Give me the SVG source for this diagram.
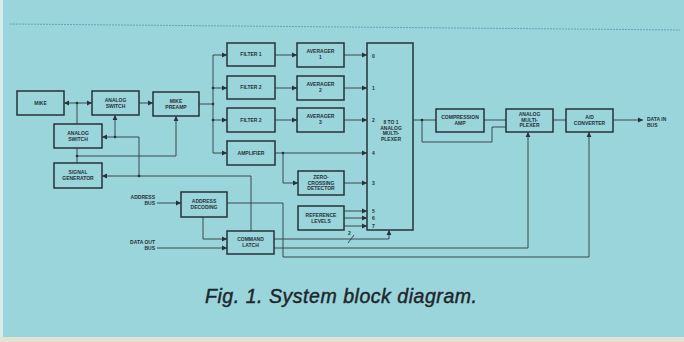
<svg xmlns="http://www.w3.org/2000/svg" width="684" height="342" viewBox="0 0 684 342">
<defs>
<marker id="ar" markerWidth="6" markerHeight="6" refX="5" refY="3" orient="auto" markerUnits="userSpaceOnUse">
<path d="M0,0.6 L5,3 L0,5.4 Z" fill="#27323a"/>
</marker>
<style>
.bx{fill:none;stroke:#27323a;stroke-width:1.5}
.c{fill:none;stroke:#2f3a42;stroke-width:0.9}
.a{fill:none;stroke:#2f3a42;stroke-width:0.9;marker-end:url(#ar)}
.t{font-family:"Liberation Sans",Arial,sans-serif;font-size:5px;font-weight:bold;fill:#27323a;text-anchor:middle}
.n{font-family:"Liberation Sans",Arial,sans-serif;font-size:5px;font-weight:bold;fill:#27323a}
.r{font-family:"Liberation Sans",Arial,sans-serif;font-size:5px;font-weight:bold;fill:#27323a;text-anchor:end}
.d{fill:#27323a}
</style>
</defs>
<rect x="0" y="0" width="684" height="342" fill="#99d5db"/>
<rect x="0" y="0" width="3" height="342" fill="#d6ecea"/>
<rect x="0" y="337" width="684" height="5" fill="#e3e3d3"/>
<line x1="10" y1="24" x2="680" y2="30" stroke="#5fa7b8" stroke-width="1" stroke-dasharray="2 1"/>

<g id="connectors">
<path class="a" d="M77,103 L64,103"/>
<path class="a" d="M77,103 L92,103"/>
<path class="c" d="M77,124 L77,103"/>
<path class="a" d="M139,103 L153,103"/>
<path class="c" d="M199,104 L213,104"/>
<path class="c" d="M213,55 L213,153"/>
<path class="a" d="M213,55 L227,55"/>
<path class="a" d="M213,88 L227,88"/>
<path class="a" d="M213,120 L227,120"/>
<path class="a" d="M213,153 L227,153"/>
<path class="a" d="M275,55 L297,55"/>
<path class="a" d="M275,88 L297,88"/>
<path class="a" d="M275,120 L297,120"/>
<path class="a" d="M344,55 L367,55"/>
<path class="a" d="M344,88 L367,88"/>
<path class="a" d="M344,120 L367,120"/>
<path class="a" d="M275,153 L367,153"/>
<path class="a" d="M283,153 L283,183 L298,183"/>
<path class="a" d="M344,183 L367,183"/>
<path class="a" d="M344,211 L367,211"/>
<path class="a" d="M344,218 L367,218"/>
<path class="a" d="M344,226 L367,226"/>
<path class="a" d="M274,239 L389,239 L389,230"/>
<path class="c" d="M348,243 L354,235"/>
<path class="a" d="M274,248 L528,248 L528,132"/>
<path class="a" d="M227,203 L283,203 L283,257 L589,257 L589,132"/>
<path class="a" d="M251,231 L251,176 L102,176"/>
<path class="a" d="M139,176 L139,137 L102,137"/>
<path class="a" d="M115,137 L115,115"/>
<path class="c" d="M77,163 L77,148"/>
<path class="a" d="M77,156 L176,156 L176,116"/>
<path class="a" d="M157,203 L181,203"/>
<path class="a" d="M157,248 L227,248"/>
<path class="a" d="M203,217 L203,239 L227,239"/>
<path class="c" d="M413,120 L436,120"/>
<path class="c" d="M422,120 L422,142 L492,142 L492,127 L506,127"/>
<path class="c" d="M484,120 L506,120"/>
<path class="c" d="M553,120 L566,120"/>
<path class="a" d="M613,120 L643,120"/>
<circle class="d" cx="77" cy="103" r="1.3"/>
<circle class="d" cx="213" cy="88" r="1.3"/>
<circle class="d" cx="213" cy="104" r="1.3"/>
<circle class="d" cx="213" cy="120" r="1.3"/>
<circle class="d" cx="283" cy="153" r="1.3"/>
<circle class="d" cx="139" cy="176" r="1.3"/>
<circle class="d" cx="115" cy="137" r="1.3"/>
<circle class="d" cx="77" cy="156" r="1.3"/>
<circle class="d" cx="422" cy="120" r="1.3"/>
<text class="n" x="348" y="235">2</text>
<text class="r" x="155" y="199">ADDRESS</text>
<text class="r" x="155" y="205">BUS</text>
<text class="r" x="155" y="244">DATA OUT</text>
<text class="r" x="155" y="250">BUS</text>
<text class="n" x="647" y="121">DATA IN</text>
<text class="n" x="647" y="127">BUS</text>
</g>

<g id="mike"><rect class="bx" x="17" y="91" width="47" height="24"/><text class="t" x="40.5" y="105">MIKE</text></g>
<g id="analog-switch-1"><rect class="bx" x="92" y="91" width="47" height="24"/><text class="t" x="115.5" y="102">ANALOG</text><text class="t" x="115.5" y="108">SWITCH</text></g>
<g id="mike-preamp"><rect class="bx" x="153" y="92" width="46" height="24"/><text class="t" x="176" y="103">MIKE</text><text class="t" x="176" y="109">PREAMP</text></g>
<g id="analog-switch-2"><rect class="bx" x="54" y="124" width="48" height="24"/><text class="t" x="78" y="135">ANALOG</text><text class="t" x="78" y="141">SWITCH</text></g>
<g id="signal-generator"><rect class="bx" x="54" y="163" width="48" height="25"/><text class="t" x="78" y="174">SIGNAL</text><text class="t" x="78" y="180">GENERATOR</text></g>
<g id="filter-1"><rect class="bx" x="227" y="43" width="48" height="23"/><text class="t" x="251" y="56">FILTER 1</text></g>
<g id="filter-2"><rect class="bx" x="227" y="76" width="48" height="23"/><text class="t" x="251" y="89">FILTER 2</text></g>
<g id="filter-3"><rect class="bx" x="227" y="108" width="48" height="24"/><text class="t" x="251" y="122">FILTER 2</text></g>
<g id="amplifier"><rect class="bx" x="227" y="141" width="48" height="24"/><text class="t" x="251" y="155">AMPLIFIER</text></g>
<g id="averager-1"><rect class="bx" x="297" y="43" width="47" height="24"/><text class="t" x="320.5" y="53">AVERAGER</text><text class="t" x="320.5" y="59">1</text></g>
<g id="averager-2"><rect class="bx" x="297" y="76" width="47" height="24"/><text class="t" x="320.5" y="86">AVERAGER</text><text class="t" x="320.5" y="92">2</text></g>
<g id="averager-3"><rect class="bx" x="297" y="108" width="47" height="24"/><text class="t" x="320.5" y="118">AVERAGER</text><text class="t" x="320.5" y="124">3</text></g>
<g id="mux-8to1"><rect class="bx" x="367" y="43" width="46" height="187"/>
<text class="n" x="372" y="57.5">0</text><text class="n" x="372" y="89.5">1</text><text class="n" x="372" y="122">2</text><text class="n" x="372" y="155">4</text><text class="n" x="372" y="185">3</text><text class="n" x="372" y="212.5">5</text><text class="n" x="372" y="219.5">6</text><text class="n" x="372" y="227.5">7</text>
<text class="t" x="391" y="124">8 TO 1</text><text class="t" x="391" y="129.5">ANALOG</text><text class="t" x="391" y="135">MULTI-</text><text class="t" x="391" y="140.5">PLEXER</text></g>
<g id="zero-crossing"><rect class="bx" x="298" y="171" width="46" height="24"/><text class="t" x="321" y="179">ZERO-</text><text class="t" x="321" y="184.5">CROSSING</text><text class="t" x="321" y="190">DETECTOR</text></g>
<g id="reference-levels"><rect class="bx" x="298" y="206" width="46" height="24"/><text class="t" x="321" y="217">REFERENCE</text><text class="t" x="321" y="223">LEVELS</text></g>
<g id="address-decoding"><rect class="bx" x="181" y="192" width="46" height="25"/><text class="t" x="204" y="203">ADDRESS</text><text class="t" x="204" y="209">DECODING</text></g>
<g id="command-latch"><rect class="bx" x="227" y="231" width="47" height="23"/><text class="t" x="250.5" y="241">COMMAND</text><text class="t" x="250.5" y="247">LATCH</text></g>
<g id="compression-amp"><rect class="bx" x="436" y="109" width="48" height="23"/><text class="t" x="460" y="119">COMPRESSION</text><text class="t" x="460" y="125">AMP</text></g>
<g id="analog-multiplexer"><rect class="bx" x="506" y="109" width="47" height="23"/><text class="t" x="529.5" y="116">ANALOG</text><text class="t" x="529.5" y="121.5">MULTI-</text><text class="t" x="529.5" y="127">PLEXER</text></g>
<g id="ad-converter"><rect class="bx" x="566" y="109" width="47" height="23"/><text class="t" x="589.5" y="119">A/D</text><text class="t" x="589.5" y="125">CONVERTER</text></g>

<text x="205" y="303" font-family="Liberation Sans, Arial, sans-serif" font-size="19.5" font-style="italic" fill="#1f262b" stroke="#1f262b" stroke-width="0.45" textLength="272" lengthAdjust="spacing">Fig. 1. System block diagram.</text>
</svg>
